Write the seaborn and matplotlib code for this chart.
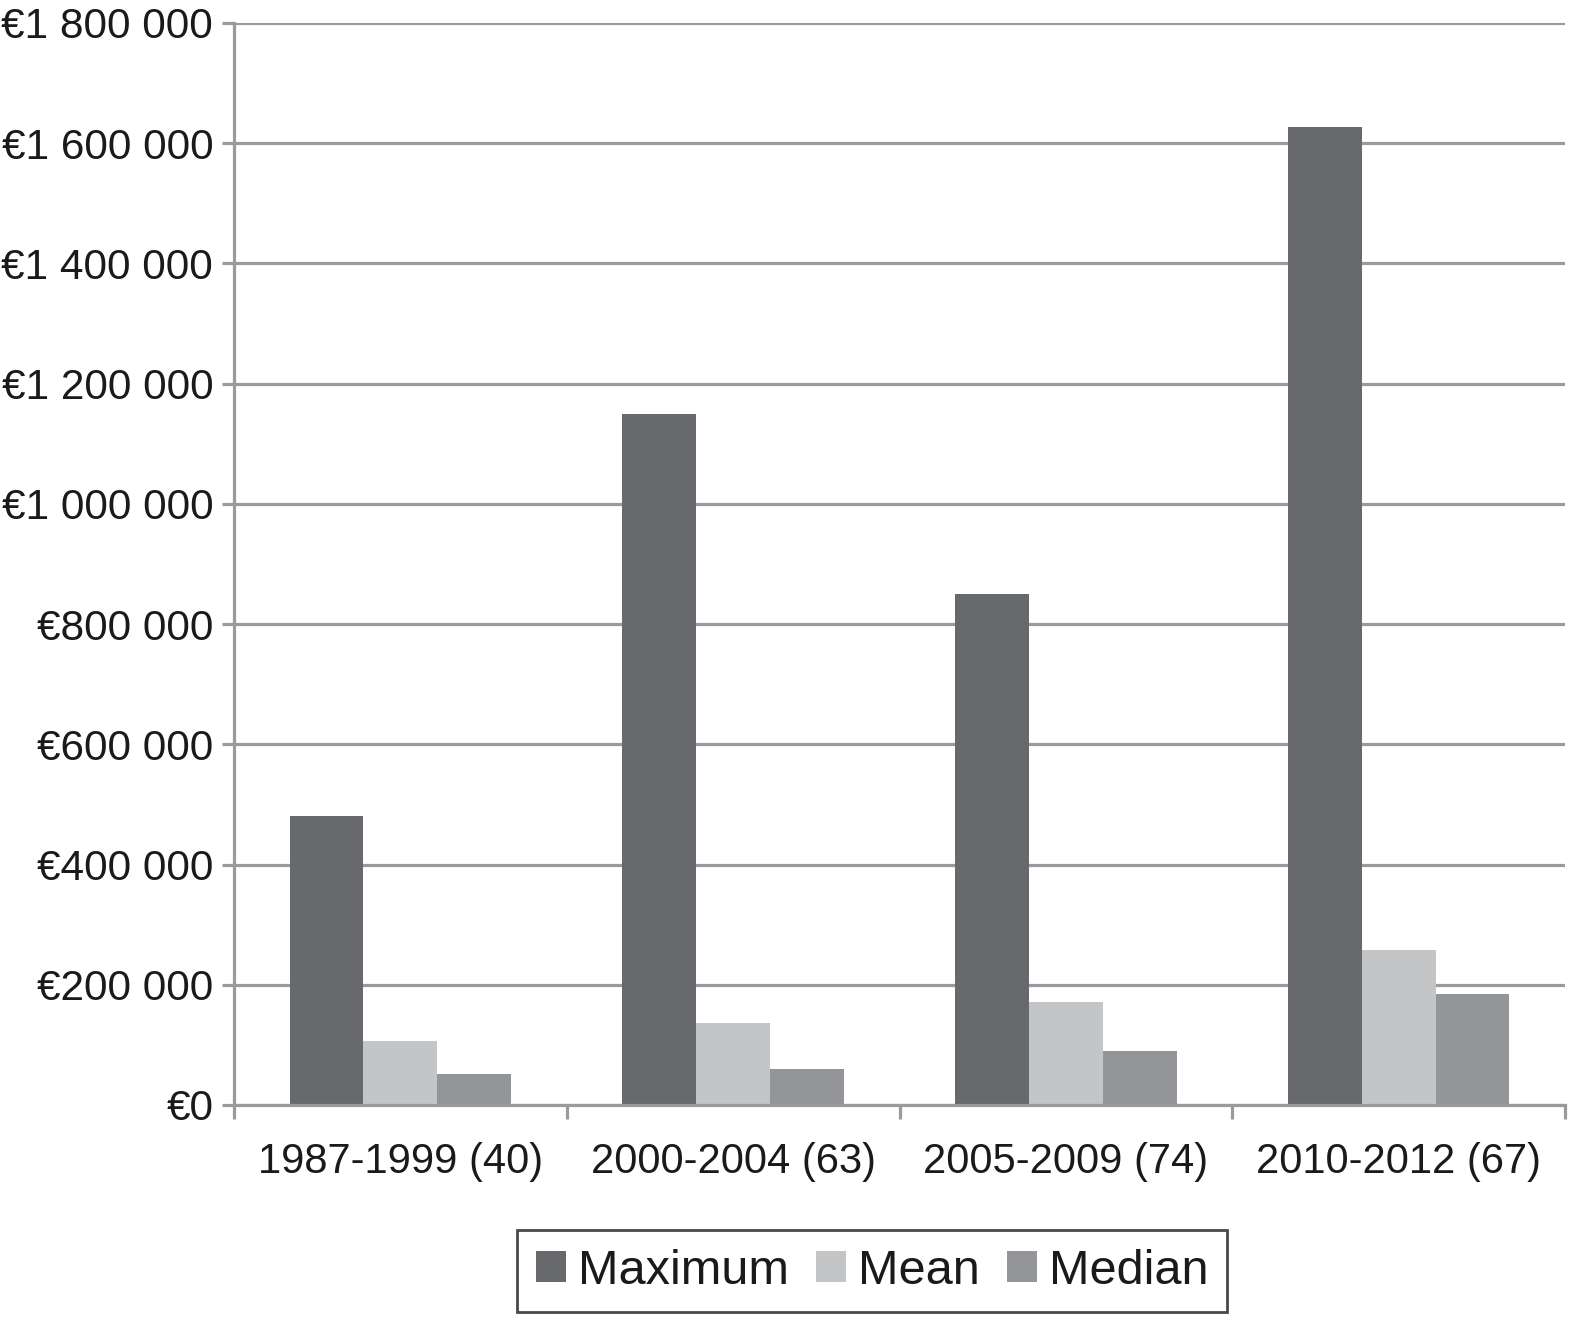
import pandas as pd
import matplotlib.pyplot as plt
import matplotlib.ticker as mticker
import seaborn as sns

# Data
periods = ['1987-1999 (40)', '2000-2004 (63)', '2005-2009 (74)', '2010-2012 (67)']
maximum = [480000, 1150000, 850000, 1627000]
mean = [106000, 136000, 171000, 258000]
median = [52000, 60000, 90000, 185000]
series = ['Maximum', 'Mean', 'Median']
colors = ['#68696d', '#c4c5c7', '#939598']

df = pd.DataFrame({
    'period': periods * 3,
    'stat': [s for s in series for _ in periods],
    'value': maximum + mean + median,
})

sns.set_theme(style='white')
plt.rcParams['font.family'] = ['Liberation Sans', 'DejaVu Sans']

fig = plt.figure(figsize=(15.72, 13.2), dpi=100)
ax = fig.add_axes([234 / 1572, 1 - 1105 / 1320, (1565 - 234) / 1572, (1105 - 23) / 1320])

sns.barplot(data=df, x='period', y='value', hue='stat', hue_order=series,
            palette=colors, width=0.665, gap=0, saturation=1, linewidth=0,
            ax=ax, legend=True)

grid_c = '#999a9c'
ax.set_ylim(0, 1800000)
ax.set_xlim(-0.5, 3.5)
ax.yaxis.set_major_locator(mticker.MultipleLocator(200000))
ax.yaxis.set_major_formatter(mticker.FuncFormatter(
    lambda v, p: '€' + f'{int(v):,}'.replace(',', ' ')))
ax.grid(axis='y', color=grid_c, linewidth=2.3)
ax.set_axisbelow(True)
for side in ['top', 'right']:
    ax.spines[side].set_visible(False)
for side in ['left', 'bottom']:
    ax.spines[side].set_color(grid_c)
    ax.spines[side].set_linewidth(2.3)

ax.tick_params(axis='y', length=9, width=2.3, color=grid_c, pad=6,
               labelsize=30.5, labelcolor='#1a1a1a', left=True)
ax.set_xticks([-0.5, 0.5, 1.5, 2.5, 3.5], minor=True)
ax.tick_params(axis='x', which='minor', length=10, width=2.3, color=grid_c, bottom=True)
ax.tick_params(axis='x', which='major', length=0, pad=27, labelsize=30, labelcolor='#1a1a1a')
ax.set_xlabel('')
ax.set_ylabel('')

handles, labels = ax.get_legend_handles_labels()
ax.get_legend().remove()
leg = fig.legend(handles, labels, loc='center', bbox_to_anchor=(872 / 1572, 1 - 1271 / 1320),
                 ncol=3, fontsize=35, frameon=True, fancybox=False,
                 handlelength=0.62, handleheight=0.62, handletextpad=0.25,
                 columnspacing=0.55, borderpad=0.38)
leg.get_frame().set_edgecolor('#1a1a1a')
leg.get_frame().set_linewidth(2)
for t in leg.get_texts():
    t.set_color('#1a1a1a')

fig.savefig('out.png', dpi=100)
